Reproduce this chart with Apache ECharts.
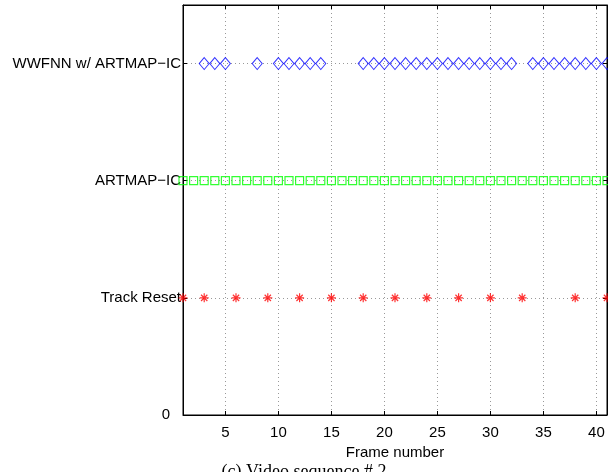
<!DOCTYPE html>
<html>
<head>
<meta charset="utf-8">
<script src="https://cdn.jsdelivr.net/npm/echarts@6/dist/echarts.min.js"></script>
<style>
  html, body { margin: 0; padding: 0; background: #fff; }
  #chart { width: 608px; height: 472px; }
</style>
</head>
<body>
<div id="chart"></div>
<script>
  // frames on which each method shows a mark
  var trackResetFrames = [1, 3, 6, 9, 12, 15, 18, 21, 24, 27, 30, 33, 38, 41];
  var artmapFrames = [1, 2, 3, 4, 5, 6, 7, 8, 9, 10, 11, 12, 13, 14, 15, 16, 17, 18, 19, 20, 21,
    22, 23, 24, 25, 26, 27, 28, 29, 30, 31, 32, 33, 34, 35, 36, 37, 38, 39, 40, 41];
  var wwfnnFrames = [3, 4, 5, 8, 10, 11, 12, 13, 14, 18, 19, 20, 21, 22, 23, 24, 25, 26, 27, 28,
    29, 30, 31, 32, 34, 35, 36, 37, 38, 39, 40, 41];
  var yTickLabels = ['0', 'Track Reset', 'ARTMAP\u2212IC', 'WWFNN w/ ARTMAP\u2212IC'];
  var xTickLabels = [5, 10, 15, 20, 25, 30, 35, 40];

  function rows(frames, level) {
    var out = [];
    for (var i = 0; i < frames.length; i++) out.push([frames[i], level]);
    return out;
  }

  var font = 'Liberation Sans, Arial, sans-serif';
  var grid = { type: [1, 3], color: '#999', width: 1 };

  var chart = echarts.init(document.getElementById('chart'));
  var option = {
    animation: false,
    grid: { left: 183, right: 1, top: 5, bottom: 57, show: true,
      borderColor: '#000', borderWidth: 1, backgroundColor: 'rgba(0,0,0,0)' },
    xAxis: [{
      type: 'value', min: 1, max: 41, splitNumber: 8, position: 'bottom',
      name: 'Frame number', nameLocation: 'middle', nameGap: 30,
      nameTextStyle: { color: '#000', fontSize: 15, fontFamily: font },
      axisLine: { show: true, onZero: false, lineStyle: { color: '#000' } },
      axisTick: { show: true, inside: true, length: 4, lineStyle: { color: '#000' } },
      axisLabel: {
        color: '#000', fontSize: 15, fontFamily: font, margin: 10,
        showMinLabel: false, showMaxLabel: false,
        formatter: function (v) { return xTickLabels.indexOf(v) >= 0 ? String(v) : ''; }
      },
      splitLine: { show: true, lineStyle: grid }
    }, {
      type: 'value', min: 1, max: 41, splitNumber: 8, position: 'top',
      axisLine: { show: true, onZero: false, lineStyle: { color: '#000' } },
      axisTick: { show: true, inside: true, length: 4, lineStyle: { color: '#000' } },
      axisLabel: { show: false }, splitLine: { show: false }
    }],
    yAxis: [{
      type: 'value', min: 0, max: 3.5, interval: 1, position: 'left',
      axisLine: { show: true, onZero: false, lineStyle: { color: '#000' } },
      axisTick: { show: true, inside: true, length: 4, lineStyle: { color: '#000' } },
      axisLabel: {
        color: '#000', fontSize: 15, fontFamily: font, margin: 2,
        showMaxLabel: false,
        formatter: function (v) {
          if (v === 0) return '{z|0}';
          return yTickLabels[v] || '';
        },
        rich: { z: { padding: [0, 11, 0, 0], fontSize: 15, fontFamily: font, color: '#000' } }
      },
      splitLine: { show: true, lineStyle: grid }
    }, {
      type: 'value', min: 0, max: 3.5, interval: 1, position: 'right',
      axisLine: { show: true, onZero: false, lineStyle: { color: '#000' } },
      axisTick: { show: true, inside: true, length: 4, lineStyle: { color: '#000' } },
      axisLabel: { show: false }, splitLine: { show: false }
    }],
    series: [{
      name: 'Track Reset', type: 'scatter', data: rows(trackResetFrames, 1),
      symbol: 'path://M0,-10L0,10M-10,0L10,0M-7,-7L7,7M-7,7L7,-7', symbolSize: 9,
      itemStyle: { color: 'rgba(0,0,0,0)', borderColor: '#ff0000', borderWidth: 1.2 }
    }, {
      name: 'ARTMAP-IC', type: 'scatter', data: rows(artmapFrames, 2),
      symbol: 'rect', symbolSize: 8,
      itemStyle: { color: 'rgba(0,0,0,0)', borderColor: '#00ff00', borderWidth: 1.2 }
    }, {
      name: 'WWFNN w/ ARTMAP-IC', type: 'scatter', data: rows(wwfnnFrames, 3),
      symbol: 'diamond', symbolSize: [10, 12],
      itemStyle: { color: 'rgba(0,0,0,0)', borderColor: '#0000ff', borderWidth: 1 }
    }],
    graphic: [{
      type: 'text', left: 'center', top: 463,
      style: { text: '(c) Video sequence # 2', fill: '#000', fontSize: 18,
        fontFamily: 'Liberation Serif, Times New Roman, serif' }
    }]
  };
  chart.setOption(option);
</script>
</body>
</html>
